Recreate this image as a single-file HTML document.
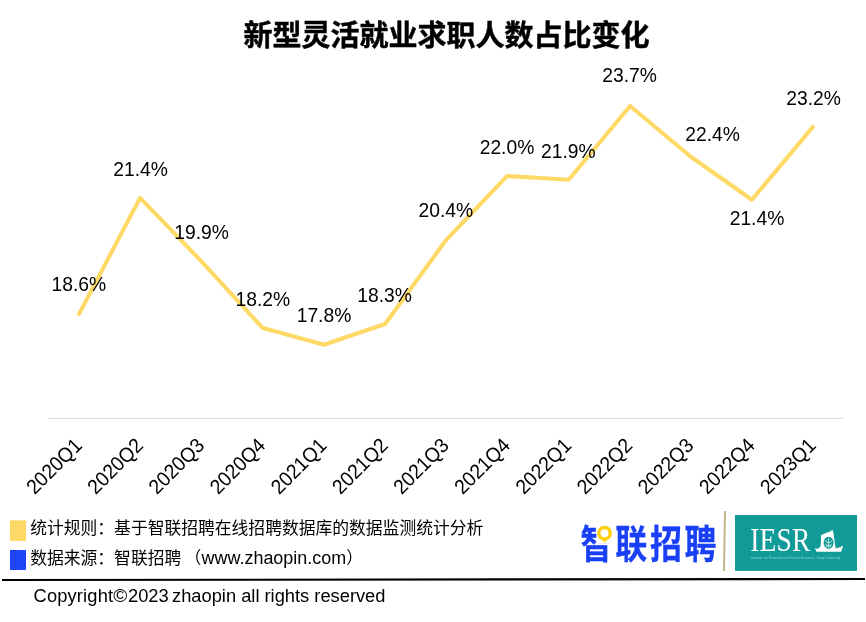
<!DOCTYPE html>
<html lang="zh-CN">
<head>
<meta charset="utf-8">
<title>新型灵活就业求职人数占比变化</title>
<style>
html,body{margin:0;padding:0;background:#fff;}
body{width:866px;height:622px;overflow:hidden;position:relative;font-family:"Liberation Sans","Noto Sans CJK SC",sans-serif;color:#000;}
svg{position:absolute;left:0;top:0;display:block;}
.title{font-family:"Liberation Sans","Noto Sans CJK SC",sans-serif;font-weight:bold;font-size:29px;stroke:#000;stroke-width:0.45px;}
.dl text{font-size:19.3px;fill:#000;}
.cat text{font-size:19.3px;fill:#000;}
.note{font-size:16.8px;}
.lat{font-size:17.95px;}
.copy{font-size:18.3px;}
.logo{font-family:"Liberation Sans","Noto Sans CJK SC",sans-serif;font-weight:bold;font-size:32px;fill:#1a40f7;stroke:#1a40f7;stroke-width:0.22px;}
.iesr{font-family:"Liberation Serif",serif;font-size:27.5px;fill:#fff;}
.iesrs{font-family:"Liberation Serif",serif;font-size:4.2px;fill:#fff;fill-opacity:0.5;}
</style>
</head>
<body>
<svg width="866" height="622" viewBox="0 0 866 622">
<rect width="866" height="622" fill="#fff"/>
<text class="title" x="446.6" y="45.6" text-anchor="middle">新型灵活就业求职人数占比变化</text>
<line x1="48.3" y1="418.4" x2="843.8" y2="418.4" stroke="#d9d9d9" stroke-width="1"/>
<polyline points="79.10,313.90 140.10,197.85 201.20,261.10 262.30,327.70 323.80,344.75 385.10,324.00 445.80,240.40 507.00,176.10 568.70,179.80 630.10,105.95 690.80,156.70 751.90,199.80 812.90,126.90" fill="none" stroke="#ffd966" stroke-width="4.1" stroke-linejoin="round" stroke-linecap="round"/>
<g class="dl">
<text x="78.8" y="291.1" text-anchor="middle">18.6%</text>
<text x="140.6" y="176.3" text-anchor="middle">21.4%</text>
<text x="201.6" y="238.8" text-anchor="middle">19.9%</text>
<text x="262.8" y="305.7" text-anchor="middle">18.2%</text>
<text x="324.0" y="321.6" text-anchor="middle">17.8%</text>
<text x="384.6" y="302.0" text-anchor="middle">18.3%</text>
<text x="445.9" y="217.4" text-anchor="middle">20.4%</text>
<text x="507.0" y="153.6" text-anchor="middle">22.0%</text>
<text x="568.4" y="157.5" text-anchor="middle">21.9%</text>
<text x="629.6" y="82.4" text-anchor="middle">23.7%</text>
<text x="712.6" y="140.5" text-anchor="middle">22.4%</text>
<text x="757.0" y="225.2" text-anchor="middle">21.4%</text>
<text x="813.6" y="105.0" text-anchor="middle">23.2%</text>
</g>
<g class="cat">
<text transform="translate(83.3,446.7) rotate(-45) scale(1,1.06)" text-anchor="end">2020Q1</text>
<text transform="translate(144.4,446.7) rotate(-45) scale(1,1.06)" text-anchor="end">2020Q2</text>
<text transform="translate(205.6,446.7) rotate(-45) scale(1,1.06)" text-anchor="end">2020Q3</text>
<text transform="translate(266.7,446.7) rotate(-45) scale(1,1.06)" text-anchor="end">2020Q4</text>
<text transform="translate(327.9,446.7) rotate(-45) scale(1,1.06)" text-anchor="end">2021Q1</text>
<text transform="translate(389.1,446.7) rotate(-45) scale(1,1.06)" text-anchor="end">2021Q2</text>
<text transform="translate(450.2,446.7) rotate(-45) scale(1,1.06)" text-anchor="end">2021Q3</text>
<text transform="translate(511.3,446.7) rotate(-45) scale(1,1.06)" text-anchor="end">2021Q4</text>
<text transform="translate(572.5,446.7) rotate(-45) scale(1,1.06)" text-anchor="end">2022Q1</text>
<text transform="translate(633.7,446.7) rotate(-45) scale(1,1.06)" text-anchor="end">2022Q2</text>
<text transform="translate(694.8,446.7) rotate(-45) scale(1,1.06)" text-anchor="end">2022Q3</text>
<text transform="translate(756.0,446.7) rotate(-45) scale(1,1.06)" text-anchor="end">2022Q4</text>
<text transform="translate(817.1,446.7) rotate(-45) scale(1,1.06)" text-anchor="end">2023Q1</text>
</g>
<rect x="10.4" y="520.9" width="15.2" height="19.5" fill="#ffd966" stroke="#ffd250" stroke-width="0.8"/>
<rect x="10.4" y="550.4" width="15.2" height="19.1" fill="#2045f5" stroke="#0530f5" stroke-width="0.8"/>
<text class="note" x="30.2" y="533.5">统计规则：基于智联招聘在线招聘数据库的数据监测统计分析</text>
<text class="note" x="30.2" y="564">数据来源：智联招聘<tspan x="184.5">（</tspan><tspan class="lat" x="201.6">www.zhaopin.com</tspan><tspan x="346.2">）</tspan></text>
<line x1="2" y1="580" x2="865" y2="579" stroke="#000" stroke-width="2.1"/>
<text class="copy" y="601.7"><tspan x="33.6" letter-spacing="0.15">Copyright</tspan><tspan x="113.2" font-size="19">©</tspan><tspan x="128">2023 </tspan><tspan x="172.05">zhaopin all rights reserved</tspan></text>
<!-- zhaopin logo -->
<g>
<text class="logo" transform="translate(580.6,558.3) scale(1,1.22)" textLength="136" lengthAdjust="spacing">智联招聘</text>
<rect x="596.5" y="522" width="17.5" height="21.6" fill="#fff"/>
<path d="M604.5 525.8a7.400 7.400 0 0 1 7.400 7.400c0 3.600-2.600 6.600-6 7.300l-1.400 2.800l-1.400-2.800c-3.400-0.700-6-3.700-6-7.300a7.400 7.400 0 0 1 7.400-7.400z" fill="#ffcf0a"/>
<circle cx="604.5" cy="533.2" r="4" fill="#fff"/>
</g>
<line x1="725" y1="511" x2="724" y2="570.9" stroke="#beb688" stroke-width="2"/>
<!-- IESR -->
<rect x="735" y="515" width="122" height="55.9" fill="#109a98"/>
<text class="iesr" transform="translate(750.3,551.4) scale(1,1.2)" textLength="60" lengthAdjust="spacing">IESR</text>
<text class="iesrs" x="751" y="559" textLength="89.5" lengthAdjust="spacingAndGlyphs">Institute for Economic and Social Research · Jinan University</text>
<path fill="#fff" d="M814.7 548q2.600 1.300 4.500 0q1.800-1.600 1.700-5l0.200-7.900l2.200-0.700l0.300-0.900l2 0.100l0.500-1l2 0.200l0.800-1.200l1.800 0.100l1.300-2.100q1.400 1 1.600 4.500l1.700 12.600l0.700 1.600l2.600-0.300l0.600-1.100l1.600 0.300l1.200-1.500l1.100 0.300l-2 5.800h-24.600z"/>
<ellipse cx="828.6" cy="542.7" rx="5" ry="6" fill="#109a98"/>
<path d="M828.600 538v9.600M825.300 540.300q0.300 2.300 3.300 2.200q3-0.100 3.300-2.200M825.600 543.800l1.500 3l1.500-2.600l1.500 2.600l1.500-3" stroke="#c9ecea" stroke-width="0.9" fill="none"/>
</svg>
</body>
</html>
